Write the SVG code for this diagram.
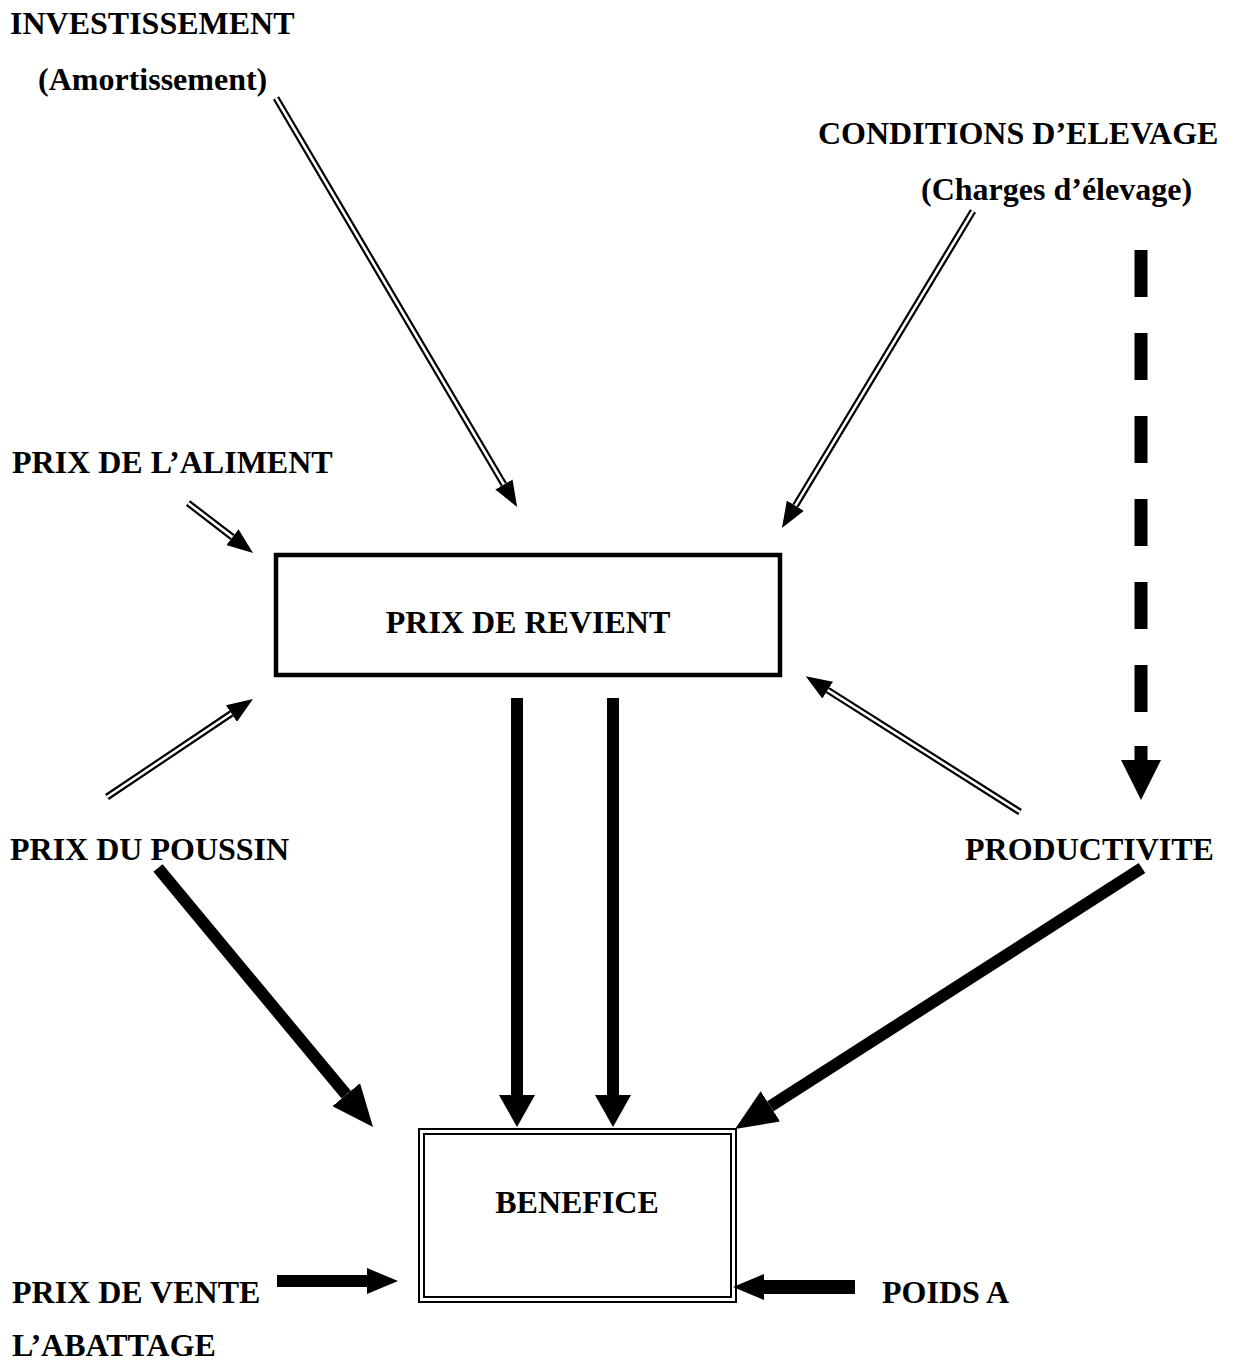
<svg xmlns="http://www.w3.org/2000/svg" width="1234" height="1362" viewBox="0 0 1234 1362">
<style>
text{font-family:"Liberation Serif","Times New Roman",serif;font-weight:bold;font-size:32px;fill:#000}
.dblo{stroke:#000;stroke-width:7;fill:none}
.dbli{stroke:#fff;stroke-width:2.6;fill:none}
.thick{stroke:#000;stroke-width:12;fill:none}
</style>
<defs>
<marker id="hd" markerUnits="userSpaceOnUse" viewBox="0 0 26 20" refX="0" refY="10" markerWidth="26" markerHeight="20" orient="auto"><path d="M0,0 L26,10 L0,20 z" fill="#000"/></marker>
<marker id="hb" markerUnits="userSpaceOnUse" viewBox="0 0 42 36" refX="0" refY="18" markerWidth="42" markerHeight="36" orient="auto"><path d="M0,0 L42,18 L0,36 z" fill="#000"/></marker>
<marker id="hv" markerUnits="userSpaceOnUse" viewBox="0 0 32 36" refX="0" refY="18" markerWidth="32" markerHeight="36" orient="auto"><path d="M0,0 L32,18 L0,36 z" fill="#000"/></marker>
<marker id="hh" markerUnits="userSpaceOnUse" viewBox="0 0 31 26" refX="0" refY="13" markerWidth="31" markerHeight="26" orient="auto"><path d="M0,0 L31,13 L0,26 z" fill="#000"/></marker>
</defs>
<rect width="1234" height="1362" fill="#fff"/>

<g id="investissement"><text x="10" y="34">INVESTISSEMENT</text><text x="38" y="90">(Amortissement)</text></g>
<g id="conditions"><text x="818" y="144">CONDITIONS D’ELEVAGE</text><text x="921" y="200">(Charges d’élevage)</text></g>
<g id="aliment"><text x="12" y="473">PRIX DE L’ALIMENT</text></g>
<g id="prix-revient"><rect x="276" y="555" width="504" height="120" fill="none" stroke="#000" stroke-width="4.5"/><text x="528" y="633" text-anchor="middle">PRIX DE REVIENT</text></g>
<g id="poussin"><text x="10" y="860">PRIX DU POUSSIN</text></g>
<g id="productivite"><text x="965" y="860">PRODUCTIVITE</text></g>
<g id="benefice"><rect x="419" y="1129" width="317" height="173" fill="none" stroke="#000" stroke-width="2"/><rect x="424" y="1134" width="307" height="163" fill="none" stroke="#000" stroke-width="2"/><text x="577" y="1213" text-anchor="middle">BENEFICE</text></g>
<g id="vente"><text x="12" y="1303">PRIX DE VENTE</text><text x="12" y="1356">L’ABATTAGE</text></g>
<g id="poids"><text x="882" y="1303">POIDS A</text></g>

<g id="connectors">
<line class="dblo" x1="276" y1="98" x2="503.9" y2="484.5" marker-end="url(#hd)"/><line class="dbli" x1="276" y1="98" x2="503.9" y2="484.5"/>
<line class="dblo" x1="973" y1="211" x2="795.4" y2="505.7" marker-end="url(#hd)"/><line class="dbli" x1="973" y1="211" x2="795.4" y2="505.7"/>
<line class="dblo" x1="188" y1="503" x2="232.4" y2="537.1" marker-end="url(#hd)"/><line class="dbli" x1="188" y1="503" x2="232.4" y2="537.1"/>
<line class="dblo" x1="107" y1="797" x2="231.4" y2="713.5" marker-end="url(#hd)"/><line class="dbli" x1="107" y1="797" x2="231.4" y2="713.5"/>
<line class="dblo" x1="1020" y1="812" x2="827.7" y2="690.1" marker-end="url(#hd)"/><line class="dbli" x1="1020" y1="812" x2="827.7" y2="690.1"/>

<line x1="1141" y1="250" x2="1141" y2="712" stroke="#000" stroke-width="13" stroke-dasharray="47 36"/>
<path d="M1134.5,746 H1147.5 V760 H1161 L1141,800 L1121,760 H1134.5 z" fill="#000"/>

<line class="thick" x1="517" y1="698" x2="517" y2="1095" marker-end="url(#hv)"/>
<line class="thick" x1="613" y1="698" x2="613" y2="1095" marker-end="url(#hv)"/>
<line class="thick" x1="158" y1="868" x2="346.2" y2="1094.7" marker-end="url(#hb)"/>
<line class="thick" x1="1142" y1="868" x2="770.4" y2="1106.3" marker-end="url(#hb)"/>
<line x1="277" y1="1281" x2="367" y2="1281" stroke="#000" stroke-width="12" marker-end="url(#hh)"/>
<line x1="855" y1="1287" x2="764" y2="1287" stroke="#000" stroke-width="14" marker-end="url(#hh)"/>
</g>
</svg>
